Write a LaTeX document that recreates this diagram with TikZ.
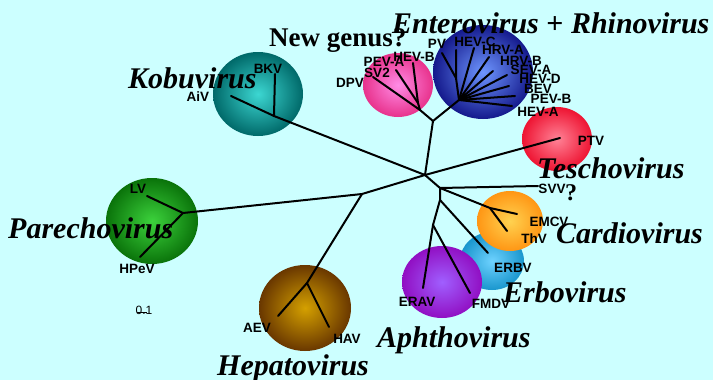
\documentclass[tikz,border=0pt]{standalone}
\usepackage{fontspec}
\setmainfont{Liberation Serif}
\newfontfamily\leaffont{Liberation Sans}
\definecolor{bg}{HTML}{CCFFFF}
\tikzset{
  br/.style={line width=2pt,line cap=round,black},
  leaf/.style={font=\leaffont\bfseries\fontsize{13.5}{14}\selectfont,inner sep=0pt},
  genus/.style={font=\bfseries\itshape\fontsize{30}{32}\selectfont,inner sep=0pt,anchor=base west},
  blob/.style={shading=radial}
}
\begin{document}
\begin{tikzpicture}[x=1pt,y=-1pt]
\useasboundingbox (0,0) rectangle (713,380);
\fill[bg] (0,0) rectangle (713,380);
% blobs
\shade[inner color={rgb,255:red,60;green,215;blue,210},outer color={rgb,255:red,0;green,105;blue,105}] (258,94) ellipse [x radius=45,y radius=42];
\shade[inner color={rgb,255:red,255;green,140;blue,230},outer color={rgb,255:red,232;green,50;blue,140}] (398,85) ellipse [x radius=35,y radius=32];
\shade[inner color={rgb,255:red,110;green,150;blue,255},outer color={rgb,255:red,20;green,25;blue,140}] (483,72) ellipse [x radius=50,y radius=47];
\shade[inner color={rgb,255:red,255;green,130;blue,150},outer color={rgb,255:red,238;green,20;blue,50}] (557,139) ellipse [x radius=35,y radius=32];
\shade[inner color={rgb,255:red,110;green,210;blue,255},outer color={rgb,255:red,25;green,150;blue,205}] (492,261) ellipse [x radius=32,y radius=29];
\shade[inner color={rgb,255:red,255;green,210;blue,80},outer color={rgb,255:red,255;green,150;blue,20}] (510,221) ellipse [x radius=33,y radius=30];
\shade[inner color={rgb,255:red,160;green,95;blue,255},outer color={rgb,255:red,145;green,15;blue,195}] (442,282) ellipse [x radius=40,y radius=36];
\shade[inner color={rgb,255:red,212;green,160;blue,0},outer color={rgb,255:red,105;green,55;blue,0}] (305,308) ellipse [x radius=46,y radius=43];
\shade[inner color={rgb,255:red,60;green,210;blue,60},outer color={rgb,255:red,10;green,115;blue,10}] (152,221) ellipse [x radius=46,y radius=43];
% tree coordinates
\coordinate (C) at (425,175);
\coordinate (U) at (433,121);
\coordinate (N) at (420,110);
\coordinate (N1) at (418,103);
\coordinate (Ldpv) at (373,77);
\coordinate (Lpeva) at (396,70);
\coordinate (Lhevb) at (413,63);
\coordinate (E) at (459,100);
\coordinate (E1) at (456,78);
\coordinate (Lpv) at (442,53);
\coordinate (Lhevc) at (456,50);
\coordinate (Lhrva) at (474,48);
\coordinate (Lhrvb) at (489,57);
\coordinate (Lseva) at (493,71);
\coordinate (Lhevd) at (507,75);
\coordinate (Lbev) at (509,86);
\coordinate (Lpevb) at (515,96);
\coordinate (Lheva) at (512,106);
\coordinate (Lptv) at (560,138);
\coordinate (D1) at (440,188);
\coordinate (D2) at (440,200);
\coordinate (D3) at (433,225);
\coordinate (Lsvv) at (538,186);
\coordinate (Card) at (490,208);
\coordinate (Lemcv) at (517,214);
\coordinate (Lthv) at (507,231);
\coordinate (Lerbv) at (488,253);
\coordinate (Lerav) at (423,288);
\coordinate (Lfmdv) at (470,293);
\coordinate (P2) at (362,194);
\coordinate (H) at (307,283);
\coordinate (Laev) at (278,316);
\coordinate (Lhav) at (329,327);
\coordinate (Pa) at (183,213);
\coordinate (Llv) at (147,196);
\coordinate (Lhpev) at (140,257);
\coordinate (K) at (274,116);
\coordinate (Laiv) at (231,96);
\coordinate (Lbkv) at (275,74);
% branches
\draw[br] (C) -- (U) -- (N) -- (Ldpv);
\draw[br] (N) -- (N1) -- (Lpeva);
\draw[br] (N1) -- (Lhevb);
\draw[br] (U) -- (E) -- (E1) -- (Lhevc);
\draw[br] (E1) -- (Lpv);
\foreach \l in {Lhrva,Lhrvb,Lseva,Lhevd,Lbev,Lpevb,Lheva} \draw[br] (E) -- (\l);
\draw[br] (C) -- (Lptv);
\draw[br] (C) -- (D1) -- (Lsvv);
\draw[br] (D1) -- (Card) -- (Lemcv);
\draw[br] (Card) -- (Lthv);
\draw[br] (D1) -- (D2) -- (Lerbv);
\draw[br] (D2) -- (D3) -- (Lerav);
\draw[br] (D3) -- (Lfmdv);
\draw[br] (C) -- (P2) -- (Pa) -- (Llv);
\draw[br] (Pa) -- (Lhpev);
\draw[br] (P2) -- (H) -- (Laev);
\draw[br] (H) -- (Lhav);
\draw[br] (C) -- (K) -- (Laiv);
\draw[br] (K) -- (Lbkv);
% leaf labels
\node[leaf] (tAiV) at (198,97) {AiV};
\node[leaf] (tBKV) at (268,69) {BKV};
\node[leaf] (tDPV) at (350,83) {DPV};
\node[leaf] (tSV2) at (377,73) {SV2};
\node[leaf] (tPEVA) at (384,62) {PEV-A};
\node[leaf] (tHEVB) at (414,57) {HEV-B};
\node[leaf] (tPV) at (437,44) {PV};
\node[leaf] (tHEVC) at (475,42) {HEV-C};
\node[leaf] (tHRVA) at (503,50) {HRV-A};
\node[leaf] (tHRVB) at (521,61) {HRV-B};
\node[leaf] (tSEVA) at (531,70) {SEV-A};
\node[leaf] (tHEVD) at (540,79) {HEV-D};
\node[leaf] (tBEV) at (538,89) {BEV};
\node[leaf] (tPEVB) at (551,99) {PEV-B};
\node[leaf] (tHEVA) at (538,112) {HEV-A};
\node[leaf] (tPTV) at (591,141) {PTV};
\node[leaf] (tSVV) at (552,189) {SVV};
\node[leaf] (tEMCV) at (549,222) {EMCV};
\node[leaf] (tThV) at (534,239) {ThV};
\node[leaf] (tERBV) at (513,268) {ERBV};
\node[leaf] (tERAV) at (417,302) {ERAV};
\node[leaf] (tFMDV) at (491,304) {FMDV};
\node[leaf] (tAEV) at (257,328) {AEV};
\node[leaf] (tHAV) at (347,339) {HAV};
\node[leaf] (tLV) at (138,189) {LV};
\node[leaf] (tHPeV) at (137,269) {HPeV};
% scale
\node[font=\leaffont\fontsize{12}{13}\selectfont,inner sep=0pt] (scale) at (144,310) {0.1};
\coordinate (s1) at (137,312.5);
\coordinate (s2) at (147,312.5);
\draw[line width=1pt] (s1) -- (s2);
% genus labels
\node[genus] (gEnt) at (392,33) {Enterovirus \textup{+} Rhinovirus};
\node[genus,font=\bfseries\fontsize{27}{29}\selectfont] (gNew) at (269,46) {New genus?};
\node[genus] (gKob) at (128,88) {Kobuvirus};
\node[genus] (gTes) at (537,178) {Teschovirus};
\node[genus,font=\bfseries\fontsize{24}{26}\selectfont] (gQ) at (565,200) {?};
\node[genus] (gCar) at (556,243) {Cardiovirus};
\node[genus] (gErb) at (503,302) {Erbovirus};
\node[genus] (gAph) at (377,347) {Aphthovirus};
\node[genus] (gHep) at (217,375) {Hepatovirus};
\node[genus] (gPar) at (8,238) {Parechovirus};
\end{tikzpicture}
\end{document}
